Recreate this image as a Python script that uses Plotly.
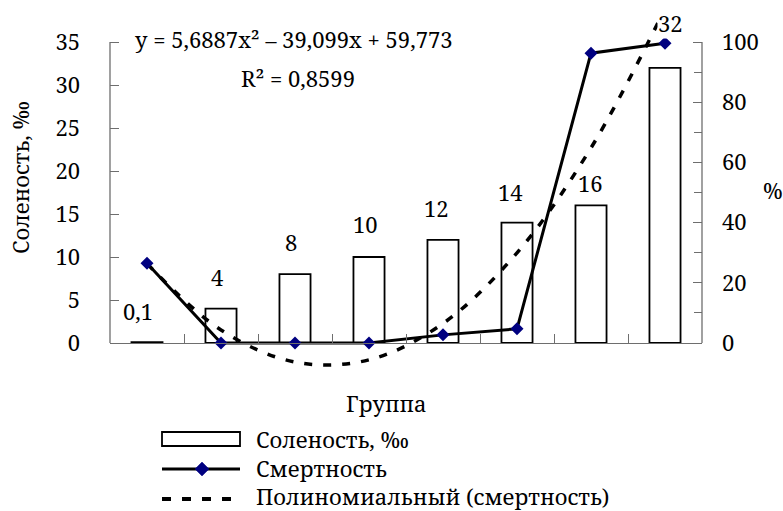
import plotly.graph_objects as go

# ---- data -------------------------------------------------------------
groups = ["1", "2", "3", "4", "5", "6", "7", "8"]
salinity = [0.1, 4, 8, 10, 12, 14, 16, 32]          # ‰, bars (left axis)
mortality = [26.5, 0, 0, 0, 2.7, 4.7, 96.3, 99.6]    # %, line (right axis)

# polynomial trendline of mortality, as reported on the chart
coef_a, coef_b, coef_c = 5.6887, -39.099, 59.773
r_squared = 0.8599

left_ticks = [0, 5, 10, 15, 20, 25, 30, 35]
right_ticks = [0, 20, 40, 60, 80, 100]
right_minor = [10, 30, 50, 70, 90]

# ---- page geometry (pixels) ----------------------------------------------
W, H = 783, 511
L, R, T, B = 110, 702, 8, 380          # plot-area box
Y0_PX, YTOP_PX = 343, 42                # where 0 and the axis maximum sit
GRAY = "#6e6e6e"
FONT = "Noto Serif, Liberation Serif, serif"
FS = 22


def px(xp):
    return (xp - L) / (R - L)


def py(yp):
    return (B - yp) / (B - T)


unit_r = (Y0_PX - YTOP_PX) / 100.0
unit_l = (Y0_PX - YTOP_PX) / 35.0
range_r = [-(B - Y0_PX) / unit_r, (Y0_PX - T) / unit_r]
range_l = [-(B - Y0_PX) / unit_l, (Y0_PX - T) / unit_l]


def comma(v):
    return str(v).replace(".", ",")


def text_at(xp, yp, text, xanchor="center", **kw):
    return dict(x=px(xp), y=py(yp), xref="paper", yref="paper", text=text,
                xanchor=xanchor, yanchor="middle", showarrow=False,
                font=dict(family=FONT, size=FS, color="black"), **kw)


trend = [coef_a * i * i + coef_b * i + coef_c for i in range(1, len(groups) + 1)]

fig = go.Figure()

fig.add_trace(go.Bar(
    x=groups, y=salinity, name="Соленость, ‰", yaxis="y",
    width=0.42, marker=dict(color="white", line=dict(color="black", width=1.8)),
    hoverinfo="skip",
))
fig.add_trace(go.Scatter(
    x=groups, y=trend, name="Полиномиальный (смертность)", yaxis="y2",
    mode="lines", line=dict(color="black", width=3.5, dash="8px,11px", shape="spline"),
    hoverinfo="skip",
))
fig.add_trace(go.Scatter(
    x=groups, y=mortality, name="Смертность", yaxis="y2",
    mode="lines+markers", line=dict(color="black", width=3),
    marker=dict(symbol="diamond", size=10, color="#000080"),
    hoverinfo="skip",
))

annotations = []

# value labels over the bars (x given as category index)
label_dx = [-9, -4, -4, -4, -7, -7, -1, 5]
label_dy = [31, 32, 32, 33, 32, 31, 22, 45]
for i, (v, dx, dy) in enumerate(zip(salinity, label_dx, label_dy)):
    annotations.append(dict(
        x=i, y=v, xref="x", yref="y", text=comma(v), showarrow=False,
        xanchor="center", yanchor="middle",
        xshift=dx, yshift=dy, bgcolor="white", borderpad=0,
        font=dict(family=FONT, size=FS, color="black"),
    ))

# trendline equation and R²
eq = f"y = {comma(coef_a)}x² – {comma(abs(coef_b))}x + {comma(coef_c)}"
annotations.append(text_at(294, 39, eq))
annotations.append(text_at(298, 78, f"R² = {comma(r_squared)}"))

# axis titles
annotations.append(text_at(20, 178, "Соленость, ‰", textangle=-90))
annotations.append(text_at(773, 190, "%"))
annotations.append(text_at(386, 403, "Группа"))

# legend entries
legend_rows = [("Соленость, ‰", 439), ("Смертность", 468), ("Полиномиальный (смертность)", 496)]
for text, yc in legend_rows:
    annotations.append(text_at(254, yc, text, xanchor="left"))

shapes = [
    # left and right value-axis lines, spanning only the scale range
    dict(type="line", xref="paper", yref="y", x0=0, x1=0, y0=0, y1=35,
         line=dict(color=GRAY, width=1.3)),
    dict(type="line", xref="paper", yref="y2", x0=1, x1=1, y0=0, y1=100,
         line=dict(color=GRAY, width=1.3)),
    # legend keys
    dict(type="rect", xref="paper", yref="paper", x0=px(162), x1=px(240),
         y0=py(446), y1=py(432), fillcolor="white", line=dict(color="black", width=1.8)),
    dict(type="line", xref="paper", yref="paper", x0=px(162), x1=px(240),
         y0=py(469), y1=py(469), line=dict(color="black", width=3)),
    dict(type="path", xref="paper", yref="paper",
         path=(f"M {px(202)},{py(462)} L {px(209)},{py(469)} "
               f"L {px(202)},{py(476)} L {px(195)},{py(469)} Z"),
         fillcolor="#000080", line=dict(color="#000080", width=0.5)),
    dict(type="line", xref="paper", yref="paper", x0=px(162), x1=px(240),
         y0=py(499), y1=py(499), line=dict(color="black", width=4, dash="9px,11px")),
]

fig.update_layout(
    width=W, height=H,
    margin=dict(l=L, r=W - R, t=T, b=H - B),
    paper_bgcolor="white", plot_bgcolor="white",
    showlegend=False,
    font=dict(family=FONT, size=FS, color="black"),
    xaxis=dict(
        type="category", range=[-0.5, len(groups) - 0.5],
        anchor="free", position=py(Y0_PX),
        showline=True, linecolor=GRAY, linewidth=1.3,
        ticks="inside", tickson="boundaries", ticklen=9, tickcolor=GRAY, tickwidth=1.3,
        showticklabels=False, showgrid=False, zeroline=False,
    ),
    yaxis=dict(
        range=range_l, tickvals=left_ticks, ticks="inside", ticklen=9,
        tickcolor=GRAY, tickwidth=1.3, showline=False, showgrid=False, zeroline=False,
        ticklabelstandoff=29, tickfont=dict(family=FONT, size=FS, color="black"),
    ),
    yaxis2=dict(
        overlaying="y", side="right", range=range_r, tickvals=right_ticks,
        ticks="inside", ticklen=9, tickcolor=GRAY, tickwidth=1.3,
        minor=dict(tickvals=right_minor, ticks="inside", ticklen=8, tickcolor=GRAY, tickwidth=1.3),
        showline=False, showgrid=False, zeroline=False,
        ticklabelstandoff=19, tickfont=dict(family=FONT, size=FS, color="black"),
    ),
    annotations=annotations,
    shapes=shapes,
)

fig.write_html("out.html")
